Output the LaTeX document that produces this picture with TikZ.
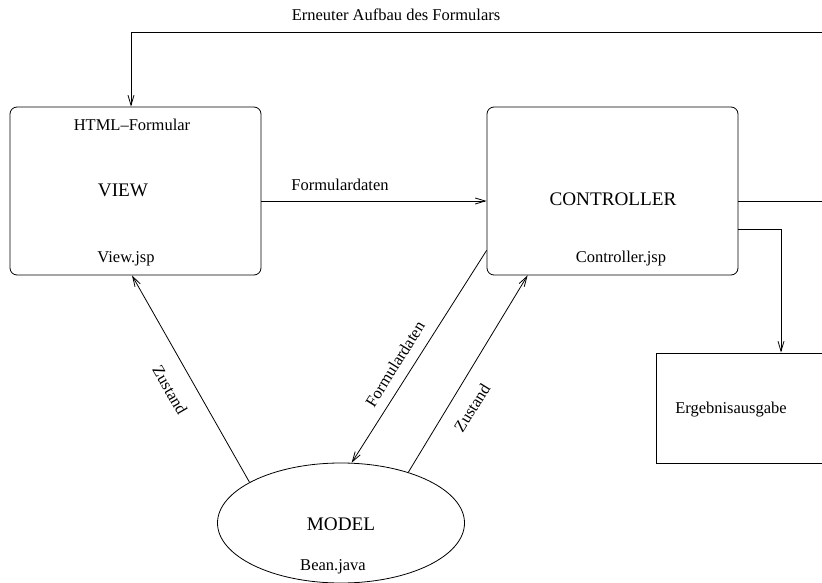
\documentclass[tikz,border=0pt]{standalone}
\usepackage{fontspec}
\setmainfont{Liberation Serif}
\usetikzlibrary{shapes.geometric,arrows.meta}
\begin{document}
\begin{tikzpicture}[x=1pt, y=1pt, line width=0.8pt,
  box/.style={draw, rounded corners=7pt, minimum width=251pt, minimum height=168pt, inner sep=0pt},
  plainbox/.style={draw, minimum width=200pt, minimum height=110pt, inner sep=0pt},
  blob/.style={draw, ellipse, minimum width=247pt, minimum height=120pt, inner sep=0pt},
  big/.style={font=\fontsize{19.2}{22}\selectfont, inner sep=0pt},
  small/.style={font=\fontsize{16.5}{19}\selectfont, inner sep=0pt},
  flow/.style={-{Straight Barb[length=10pt, width=6pt]}}]
\clip (0,0) rectangle (822,-583);
\node[box] (view) at (135.5,-191){};
\node[small] (viewtitle) at (132,-125){HTML--Formular};
\node[big] (viewname) at (123,-190){VIEW};
\node[small] (viewfile) at (126,-259){View.jsp};
\node[box] (ctrl) at (612.5,-191){};
\node[big] (ctrlname) at (613,-199){CONTROLLER};
\node[small] (ctrlfile) at (621,-259){Controller.jsp};
\node[blob] (model) at (341,-523){};
\node[big] (modelname) at (341,-524){MODEL};
\node[small] (modelfile) at (333,-567){Bean.java};
\node[plainbox] (result) at (756,-408){};
\node[small] (resultname) at (731,-410){Ergebnisausgabe};
\coordinate (loopend) at (822,-32);
\coordinate (ctrlout) at (822,-201);
\draw[flow] (loopend) -| ([xshift=-4.5pt]view.north);
\node[small] (looplabel) at (396,-15){Erneuter Aufbau des Formulars};
\draw[flow] ([yshift=-10pt]view.east) -- ([yshift=-10pt]ctrl.west);
\node[small] (datlabel) at (340,-185){Formulardaten};
\draw ([yshift=-10pt]ctrl.east) -- (ctrlout);
\draw[flow] ([yshift=-38pt]ctrl.east) -| ([xshift=25pt]result.north);
\draw[flow] (model.156) -- ([xshift=-3.5pt]view.south);
\node[small, rotate=-60] (statel) at (170,-390){Zustand};
\draw[flow] ([yshift=25pt]ctrl.south west) -- (model.80);
\node[small, rotate=58] (datdiag) at (395,-364){Formulardaten};
\draw[flow] (model.37) -- ([xshift=41pt]ctrl.south west);
\node[small, rotate=58] (stater) at (472,-408){Zustand};
\end{tikzpicture}
\end{document}
